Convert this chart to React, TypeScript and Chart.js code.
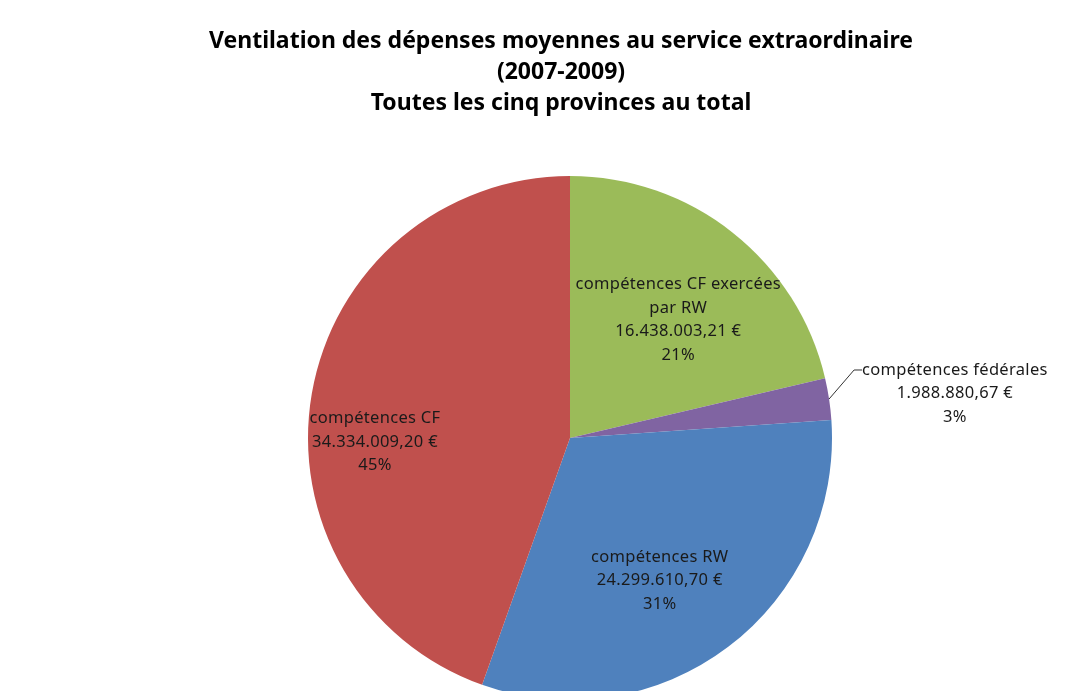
import React, { useEffect, useRef } from "react";
import { Chart, registerables } from "chart.js";

Chart.register(...registerables);

const titleLines = [
  "Ventilation des dépenses moyennes au service extraordinaire",
  "(2007-2009)",
  "Toutes les cinq provinces au total",
];

const categories = [
  "compétences CF exercées par RW",
  "compétences fédérales",
  "compétences RW",
  "compétences CF",
];

const labelNameLines = [
  ["compétences CF exercées", "par RW"],
  ["compétences fédérales"],
  ["compétences RW"],
  ["compétences CF"],
];

const values = [16438003.21, 1988880.67, 24299610.7, 34334009.2];

const percentLabels = ["21%", "3%", "31%", "45%"];

const colors = ["#9BBB59", "#8064A2", "#4F81BD", "#C0504D"];

// label placement styling (fraction of radius along mid angle, plus pixel nudge)
const labelRadiusFactor = [0.61, 1, 0.63, 0.74];
const labelNudge = [
  [9, 7],
  [0, 0],
  [-10, 11],
  [-4, 37],
];

function formatEuro(v: number): string {
  const fixed = v.toFixed(2);
  const [intPart, dec] = fixed.split(".");
  const withDots = intPart.replace(/\B(?=(\d{3})+(?!\d))/g, ".");
  return withDots + "," + dec + " €";
}

const LABEL_FONT = "16.5px 'Noto Sans', sans-serif";
const LABEL_LH = 23.5;

const overlayPlugin = {
  id: "overlay",
  afterDraw(chart: any) {
    const ctx = chart.ctx as CanvasRenderingContext2D;
    ctx.save();
    // title
    ctx.fillStyle = "#000";
    ctx.font = "bold 23px 'Noto Sans', sans-serif";
    ctx.textAlign = "center";
    ctx.textBaseline = "middle";
    const tx = 561;
    titleLines.forEach((t, i) => ctx.fillText(t, tx, 41 + i * 31));

    // data labels
    const meta = chart.getDatasetMeta(0);
    ctx.font = LABEL_FONT;
    try {
      (ctx as any).letterSpacing = "0.3px";
    } catch (e) {}
    ctx.fillStyle = "#1a1a1a";
    meta.data.forEach((arc: any, i: number) => {
      const p = arc.getProps(["x", "y", "startAngle", "endAngle", "outerRadius"], true);
      const mid = (p.startAngle + p.endAngle) / 2;
      const lines = [...labelNameLines[i], formatEuro(values[i]), percentLabels[i]];
      if (i === 1) {
        // outside label with leader line
        const ex = p.x + Math.cos(mid) * p.outerRadius;
        const ey = p.y + Math.sin(mid) * p.outerRadius;
        const kx = ex + 25;
        const ky = ey - 29;
        ctx.strokeStyle = "#333";
        ctx.lineWidth = 1;
        ctx.beginPath();
        ctx.moveTo(ex, ey);
        ctx.lineTo(kx, ky);
        ctx.lineTo(kx + 8, ky);
        ctx.stroke();
        const w = ctx.measureText(lines[0]).width;
        const cx = kx + 8 + w / 2;
        const startY = ky;
        lines.forEach((l, j) => ctx.fillText(l, cx, startY + j * LABEL_LH));
        return;
      }
      const r = p.outerRadius * labelRadiusFactor[i];
      const cx = p.x + Math.cos(mid) * r + labelNudge[i][0];
      const cy = p.y + Math.sin(mid) * r + labelNudge[i][1];
      const startY = cy - ((lines.length - 1) * LABEL_LH) / 2;
      lines.forEach((l, j) => ctx.fillText(l, cx, startY + j * LABEL_LH));
    });
    ctx.restore();
  },
};

export default function App() {
  const ref = useRef<HTMLCanvasElement | null>(null);
  useEffect(() => {
    document.body.style.margin = "0";
    const canvas = ref.current!;
    const chart = new Chart(canvas, {
      type: "pie",
      data: {
        labels: categories,
        datasets: [
          {
            data: values,
            backgroundColor: colors,
            borderWidth: 0,
          },
        ],
      },
      options: {
        responsive: false,
        animation: false,
        layout: { padding: { top: 176, bottom: 20, left: 68, right: 0 } },
        plugins: {
          legend: { display: false },
          tooltip: { enabled: false },
          title: { display: false },
        },
      },
      plugins: [
        overlayPlugin,
        {
          id: "bg",
          beforeDraw(c: any) {
            const ctx = c.ctx;
            ctx.save();
            ctx.fillStyle = "#fff";
            ctx.fillRect(0, 0, c.width, c.height);
            ctx.restore();
          },
        },
      ],
    });
    return () => chart.destroy();
  }, []);
  return (
    <div style={{ position: "fixed", left: 0, top: 0, width: 1072, height: 691, overflow: "hidden", background: "#fff" }}>
      <canvas ref={ref} width={1072} height={720} style={{ width: 1072, height: 720, display: "block" }} />
    </div>
  );
}
